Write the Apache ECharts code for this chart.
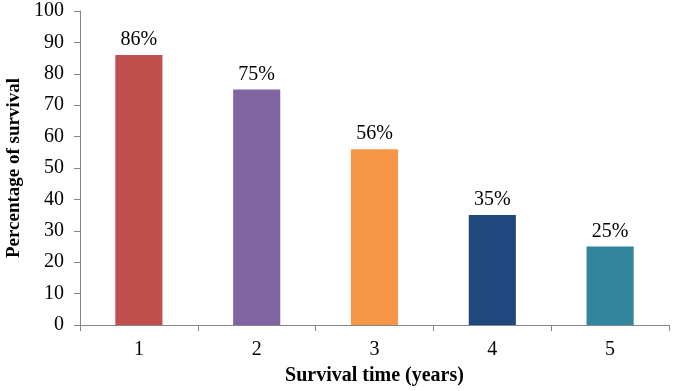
<!DOCTYPE html>
<html>
<head>
<meta charset="utf-8">
<script src="https://cdn.jsdelivr.net/npm/echarts@6/dist/echarts.min.js"></script>
<style>html,body{margin:0;padding:0;background:#fff;}#c{width:673px;height:391px;}</style>
</head>
<body>
<div id="c"></div>
<script>
var categories = ['1', '2', '3', '4', '5'];
var survival = [86, 75, 56, 35, 25];
var barColors = ['#C0504D', '#8064A2', '#F79646', '#1F497D', '#31859C'];
var yTicks = [0, 10, 20, 30, 40, 50, 60, 70, 80, 90, 100];

var font = '"Liberation Serif", "Times New Roman", serif';
var chart = echarts.init(document.getElementById('c'));
chart.setOption({
  animation: false,
  backgroundColor: '#fff',
  grid: { left: 80, right: 4, top: 11, bottom: 66, containLabel: false, outerBoundsMode: 'none' },
  xAxis: {
    type: 'category',
    data: categories,
    name: 'Survival time (years)',
    nameLocation: 'middle',
    nameGap: 41,
    nameTextStyle: { fontFamily: font, fontWeight: 'bold', fontSize: 20, color: '#000' },
    axisLine: { lineStyle: { color: '#868686', width: 1 } },
    axisTick: { show: true, length: 6, lineStyle: { color: '#868686' }, alignWithLabel: false },
    axisLabel: { fontFamily: font, fontSize: 20, color: '#000', margin: 15 }
  },
  yAxis: {
    type: 'value',
    min: yTicks[0],
    max: yTicks[yTicks.length - 1],
    interval: 10,
    name: 'Percentage of survival',
    nameLocation: 'middle',
    nameGap: 56,
    nameRotate: 90,
    nameTextStyle: { fontFamily: font, fontWeight: 'bold', fontSize: 19, color: '#000' },
    axisLine: { show: true, lineStyle: { color: '#868686', width: 1 } },
    axisTick: { show: true, length: 6, lineStyle: { color: '#868686' } },
    splitLine: { show: false },
    axisLabel: { fontFamily: font, fontSize: 20, color: '#000', margin: 16 }
  },
  series: [{
    type: 'bar',
    data: survival.map(function (v, i) { return { value: v, itemStyle: { color: barColors[i] } }; }),
    barWidth: '40%',
    label: {
      show: true,
      position: 'top',
      distance: 5,
      formatter: '{c}%',
      fontFamily: font,
      fontSize: 20,
      color: '#000'
    }
  }]
});
</script>
</body>
</html>
